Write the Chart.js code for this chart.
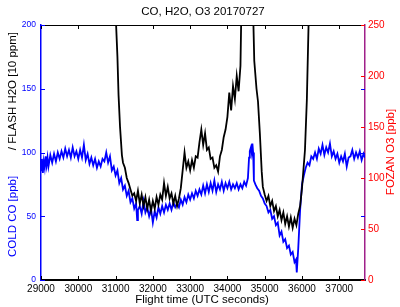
<!DOCTYPE html>
<html>
<head>
<meta charset="utf-8">
<script src="https://cdn.jsdelivr.net/npm/chart.js@4.4.1/dist/chart.umd.min.js"></script>
<style>
  html, body { margin: 0; padding: 0; background: #fff; }
</style>
</head>
<body>
<canvas id="chart" width="400" height="307"></canvas>
<script>
// CO (blue, left axis, ppb)
const coTime = [29000, 29025, 29050, 29075, 29100, 29125, 29150, 29175, 29200, 29250, 29300, 29350,
  29400, 29450, 29500, 29550, 29600, 29650, 29700, 29750, 29800, 29850, 29900, 29950,
  30000, 30050, 30100, 30150, 30200, 30250, 30300, 30350, 30400, 30450, 30500, 30550,
  30600, 30650, 30700, 30750, 30800, 30850, 30900, 30950,
  31000, 31050, 31100, 31150, 31200, 31250, 31300, 31350, 31400, 31450, 31500, 31550,
  31580, 31600, 31650, 31700, 31750, 31800, 31850, 31900, 31950,
  32000, 32050, 32100, 32150, 32200, 32250, 32300, 32350, 32400, 32450, 32500, 32550,
  32600, 32650, 32700, 32750, 32800, 32850, 32900, 32950,
  33000, 33050, 33100, 33150, 33200, 33250, 33300, 33350, 33400, 33450, 33500, 33550,
  33600, 33650, 33700, 33750, 33800, 33850, 33900, 33950,
  34000, 34050, 34100, 34150, 34200, 34250, 34300, 34350, 34400, 34450, 34500, 34550,
  34580, 34600, 34630, 34650, 34670, 34690, 34710, 34750, 34800, 34850, 34900, 34950,
  35000, 35050, 35100, 35150, 35200, 35250, 35300, 35350, 35400, 35450, 35500, 35550,
  35600, 35650, 35700, 35750, 35800, 35840, 35860, 35900, 35950,
  36000, 36050, 36100, 36150, 36200, 36250, 36300, 36350, 36400, 36450, 36500, 36550,
  36600, 36650, 36700, 36750, 36800, 36850, 36900, 36950,
  37000, 37050, 37100, 37150, 37200, 37250, 37300, 37350, 37400, 37450, 37500, 37550,
  37600, 37650, 37690];
const coValues = [86, 95, 84, 93, 88, 97, 90, 96, 89, 98, 92, 99,
  93, 100, 95, 101, 96, 103, 97, 102, 96, 104, 97, 101,
  95, 102, 96, 106, 94, 99, 91, 96, 90, 95, 88, 93,
  89, 95, 93, 100, 92, 97, 86, 89,
  82, 86, 76, 80, 71, 74, 66, 70, 61, 64, 56, 60,
  47, 55, 58, 52, 62, 53, 57, 50, 56,
  45, 54, 49, 57, 52, 58, 53, 59, 55, 60, 55, 61,
  57, 60, 57, 63, 59, 65, 61, 67,
  63, 68, 64, 70, 66, 71, 67, 74, 68, 75, 69, 76,
  70, 78, 69, 75, 71, 77, 70, 76,
  72, 77, 71, 75, 72, 76, 71, 75, 72, 77, 74, 80,
  96, 101, 104, 100, 107, 100, 78, 75, 72, 70, 66, 64,
  60, 58, 53, 55, 48, 50, 43, 45, 35, 38, 30, 32,
  25, 27, 20, 22, 14, 16, 6, 25, 55,
  75, 82, 88, 92, 90, 97, 95, 100, 95, 103, 99, 106,
  98, 104, 100, 107, 97, 101, 95, 99,
  92, 97, 93, 99, 89, 96, 97, 102, 95, 100, 96, 101,
  94, 99, 96];

// H2O (black, left axis, 10 ppm) - off-scale values clip at the top
const h2oTime = [29000, 30950, 31000, 31050, 31080, 31120, 31170, 31200, 31250, 31300, 31350, 31400,
  31450, 31500, 31550, 31600, 31650, 31700, 31750, 31800, 31850, 31900, 31950,
  32000, 32050, 32100, 32150, 32200, 32250, 32300, 32350, 32400, 32450, 32500, 32550,
  32600, 32650, 32700, 32750, 32800, 32850, 32900, 32950,
  33000, 33050, 33100, 33150, 33200, 33250, 33300, 33350, 33400, 33450, 33500, 33550,
  33600, 33650, 33700, 33750, 33800, 33850, 33900, 33950,
  34000, 34050, 34100, 34150, 34200, 34250, 34300, 34350, 34400, 34650,
  34720, 34780, 34820, 34870, 34920, 34950,
  35000, 35050, 35100, 35150, 35200, 35250, 35300, 35350, 35400, 35450, 35500, 35550,
  35600, 35650, 35700, 35750, 35800, 35850, 35900, 35950,
  36000, 36080, 36130, 36180, 36200, 37690];
const h2oValues = [400, 400, 210, 175, 145, 120, 98, 92, 88, 80, 76, 71,
  66, 68, 62, 70, 60, 67, 58, 65, 56, 63, 54,
  62, 56, 65, 59, 67, 63, 76, 66, 73, 64, 68, 60,
  66, 58, 64, 72, 86, 100, 88, 93,
  86, 94, 88, 97, 96, 108, 118, 106, 115, 102, 104, 95,
  96, 88, 90, 85, 97, 102, 112, 118,
  128, 147, 133, 152, 142, 160, 148, 168, 260, 260,
  172, 150, 140, 115, 85, 73,
  67, 62, 66, 58, 62, 54, 58, 50, 55, 47, 53, 44,
  50, 42, 49, 41, 48, 43, 52, 58,
  72, 102, 141, 205, 400, 400];

const xTicks = [29000, 30000, 31000, 32000, 33000, 34000, 35000, 36000, 37000];
const leftTicks = [0, 50, 100, 150, 200];
const rightTicks = [0, 50, 100, 150, 200, 250];

const font = "'Liberation Sans', Arial, sans-serif";

function pts(xs, ys) {
  return xs.map((x, i) => ({ x: x, y: ys[i] }));
}

// подписи осей, заголовок и внутренние засечки
const decorPlugin = {
  id: 'decor',
  afterDraw(chart) {
    const { ctx, chartArea: a, scales } = chart;
    ctx.save();

    function tick(color, x1, y1, x2, y2) {
      ctx.strokeStyle = color;
      ctx.lineWidth = 1;
      ctx.beginPath();
      ctx.moveTo(x1, y1);
      ctx.lineTo(x2, y2);
      ctx.stroke();
    }

    // верхняя рамка
    tick('#000', a.left, a.top + 0.5, a.right, a.top + 0.5);

    scales.x.ticks.forEach(t => {
      const px = Math.round(scales.x.getPixelForValue(t.value)) + 0.5;
      tick('#000', px, a.bottom, px, a.bottom - 4);
      tick('#000', px, a.top, px, a.top + 4);
    });
    scales.y.ticks.forEach(t => {
      const py = Math.round(scales.y.getPixelForValue(t.value)) + 0.5;
      tick('#0000ff', a.left, py, a.left + 4, py);
      tick('#0000ff', a.right, py, a.right - 4, py);
    });
    scales.y2.ticks.forEach(t => {
      const py = Math.round(scales.y2.getPixelForValue(t.value)) + 0.5;
      tick('#ff0000', a.right, py, a.right - 4, py);
    });

    ctx.font = '11.5px ' + font;
    ctx.textBaseline = 'middle';

    // заголовок
    ctx.fillStyle = '#000';
    ctx.textAlign = 'center';
    ctx.fillText('CO, H2O, O3 20170727', 203, 12);

    // ось X
    ctx.fillText('Flight time (UTC seconds)', 202, 300);

    // левая ось: две части разного цвета
    ctx.save();
    ctx.translate(13, 257);
    ctx.rotate(-Math.PI / 2);
    ctx.textAlign = 'left';
    ctx.fillStyle = '#0000ff';
    ctx.fillText('COLD CO [ppb]', 0, 0);
    ctx.textAlign = 'right';
    ctx.fillStyle = '#000';
    ctx.fillText('/ FLASH H2O [10 ppm]', 225, 0);
    ctx.restore();

    // правая ось
    ctx.save();
    ctx.translate(391, 152);
    ctx.rotate(-Math.PI / 2);
    ctx.textAlign = 'center';
    ctx.fillStyle = '#ff0000';
    ctx.fillText('FOZAN O3 [ppb]', 0, 0);
    ctx.restore();

    ctx.restore();
  }
};

const ctx = document.getElementById('chart').getContext('2d');
new Chart(ctx, {
  type: 'line',
  data: {
    datasets: [
      {
        label: 'FLASH H2O',
        data: pts(h2oTime, h2oValues),
        borderColor: '#000000',
        borderWidth: 1.8,
        pointRadius: 0,
        tension: 0,
        yAxisID: 'y',
        order: 1
      },
      {
        label: 'COLD CO',
        data: pts(coTime, coValues),
        borderColor: '#0000ff',
        borderWidth: 1.8,
        pointRadius: 0,
        tension: 0,
        yAxisID: 'y',
        order: 2
      },
      {
        label: 'FOZAN O3',
        data: [],
        borderColor: '#ff0000',
        pointRadius: 0,
        yAxisID: 'y2',
        order: 3
      }
    ]
  },
  options: {
    responsive: false,
    animation: false,
    layout: { padding: { top: 25, left: 0, right: 0, bottom: 0 } },
    plugins: {
      legend: { display: false },
      tooltip: { enabled: false },
      title: { display: false }
    },
    scales: {
      x: {
        type: 'linear',
        min: 29000,
        max: 37690,
        afterBuildTicks: s => { s.ticks = xTicks.map(v => ({ value: v })); },
        afterFit: s => { s.height = 27; },
        ticks: {
          color: '#000',
          font: { family: font, size: 10 },
          padding: 3,
          maxRotation: 0,
          callback: v => String(v)
        },
        grid: { display: true, drawOnChartArea: false, drawTicks: false },
        border: { color: '#000', width: 2 }
      },
      y: {
        position: 'left',
        min: 0,
        max: 200,
        afterBuildTicks: s => { s.ticks = leftTicks.map(v => ({ value: v })); },
        afterFit: s => { s.width = 41; },
        ticks: {
          color: '#0000ff',
          font: { family: font, size: 8.5 },
          padding: 5
        },
        grid: { display: true, drawOnChartArea: false, drawTicks: false },
        border: { color: '#0000ff', width: 1.5 }
      },
      y2: {
        position: 'right',
        min: 0,
        max: 250,
        afterBuildTicks: s => { s.ticks = rightTicks.map(v => ({ value: v })); },
        afterFit: s => { s.width = 35; },
        ticks: {
          color: '#ff0000',
          font: { family: font, size: 10 },
          padding: 3
        },
        grid: { display: true, drawOnChartArea: false, drawTicks: false },
        border: { color: '#a0208a', width: 1.5 }
      }
    }
  },
  plugins: [decorPlugin]
});
</script>
</body>
</html>
